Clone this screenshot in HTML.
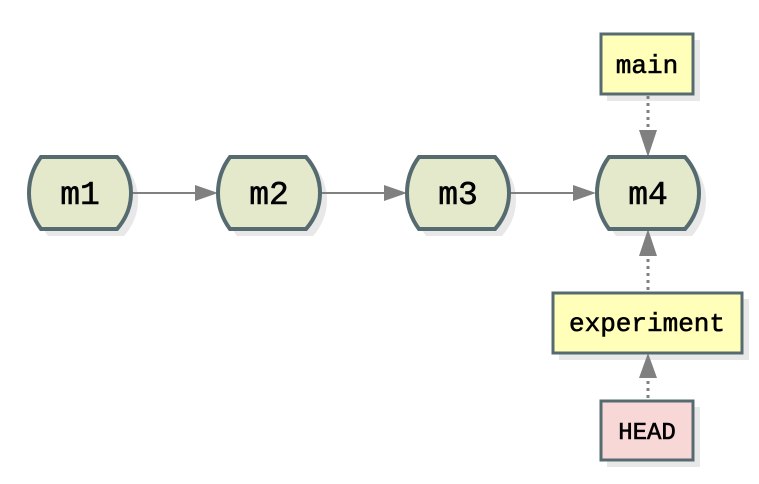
<!DOCTYPE html>
<html><head><style>html,body{margin:0;padding:0;background:#fff}svg{display:block}</style></head>
<body>
<svg width="759" height="484" viewBox="0 0 759 484" xmlns="http://www.w3.org/2000/svg">
<defs>
<g id="nd"><path d="M-39,-36 L37,-36 Q51,-20 51,0 Q51,20 37,36 L-39,36 Q-51,20 -51,0 Q-51,-20 -39,-36 Z"/></g>
</defs>
<g fill="#e8e8e8">
<use href="#nd" x="87" y="200"/><use href="#nd" x="276" y="200"/><use href="#nd" x="465" y="200"/><use href="#nd" x="655" y="200"/>
<rect x="607" y="40" width="93" height="61"/><rect x="559" y="299" width="190" height="61"/><rect x="607" y="407" width="93" height="60"/>
</g>
<g stroke="#808080" stroke-width="2" fill="#808080">
<line x1="131" y1="193" x2="200" y2="193"/><path d="M218,193 L195,185 L195,201 Z" stroke="none"/>
<line x1="320" y1="193" x2="389" y2="193"/><path d="M407,193 L384,185 L384,201 Z" stroke="none"/>
<line x1="509" y1="193" x2="578" y2="193"/><path d="M596,193 L573,185 L573,201 Z" stroke="none"/>
</g>
<g stroke="#808080" stroke-width="3" stroke-dasharray="3,4">
<line x1="648" y1="96" x2="648" y2="135"/>
<line x1="648" y1="290" x2="648" y2="252"/>
<line x1="648" y1="398" x2="648" y2="375"/>
</g>
<g fill="#808080">
<path d="M648,157 L639,130 L657,130 Z"/>
<path d="M648,229 L639,256 L657,256 Z"/>
<path d="M648,353 L639,378 L657,378 Z"/>
</g>
<g fill="#e5e9cc" stroke="#566b70" stroke-width="4">
<use href="#nd" x="80" y="193"/><use href="#nd" x="269" y="193"/><use href="#nd" x="458" y="193"/><use href="#nd" x="648" y="193"/>
</g>
<g stroke="#566b70" stroke-width="3">
<rect x="601" y="34" width="92" height="60" fill="#ffffb9"/>
<rect x="553" y="293" width="189" height="60" fill="#ffffb9"/>
<rect x="601" y="401" width="92" height="59" fill="#f8d7d7"/>
</g>
<g font-family="Liberation Mono, monospace" text-anchor="middle" fill="#000" stroke="#000" stroke-width="0.6">
<text x="80" y="204" font-size="33">m1</text>
<text x="269" y="204" font-size="33">m2</text>
<text x="458" y="204" font-size="33">m3</text>
<text x="648" y="204" font-size="33">m4</text>
<text x="647" y="73" font-size="26">main</text>
<text x="647" y="331" font-size="26">experiment</text>
<text x="647" y="439" font-size="24">HEAD</text>
</g>
</svg>
</body></html>
